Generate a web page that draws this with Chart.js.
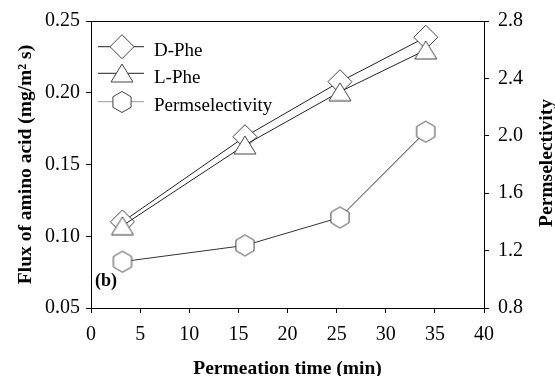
<!DOCTYPE html>
<html><head><meta charset="utf-8">
<script src="https://cdn.jsdelivr.net/npm/chart.js@4"></script>
<style>html,body{margin:0;padding:0;background:#fff}#wrap{width:555px;height:376px}</style>
</head><body><div id="wrap"><canvas id="c" width="555" height="376"></canvas></div>
<script>
// ---- data ----
const timeMin = [3.2, 15.67, 25.34, 34.07];
const dPhe = [0.110, 0.1694, 0.2077, 0.2387];
const lPhe = [0.1073, 0.1636, 0.2007, 0.2298];
const permselectivity = [1.123, 1.236, 1.431, 2.029];
const seriesNames = ['D-Phe', 'L-Phe', 'Permselectivity'];
const xTickValues = [0, 5, 10, 15, 20, 25, 30, 35, 40];
const leftTickValues = [0.05, 0.10, 0.15, 0.20, 0.25];
const rightTickValues = [0.8, 1.2, 1.6, 2.0, 2.4, 2.8];
const xTitle = 'Permeation time (min)';
const leftTitle = 'Flux of amino acid (mg/m\u00B2 s)';
const rightTitle = 'Permselectivity';
const panelLabel = '(b)';

// ---- marker images ----
const MK = '#444';
function makeTri() {
  const c = document.createElement('canvas'); c.width = 24; c.height = 20;
  const g = c.getContext('2d');
  g.beginPath(); g.moveTo(12, 1); g.lineTo(23, 19); g.lineTo(1, 19); g.closePath();
  g.fillStyle = '#fff'; g.fill(); g.strokeStyle = MK; g.lineWidth = 1; g.stroke();
  return c;
}
function makeHex() {
  const c = document.createElement('canvas'); c.width = 22; c.height = 24;
  const g = c.getContext('2d'); const R = 10.5;
  g.beginPath();
  for (let k = 0; k < 6; k++) {
    const a = (-90 + 60 * k) * Math.PI / 180;
    const px = 11 + R * Math.cos(a), py = 12 + R * Math.sin(a);
    k ? g.lineTo(px, py) : g.moveTo(px, py);
  }
  g.closePath(); g.fillStyle = '#fff'; g.fill(); g.strokeStyle = MK; g.lineWidth = 1; g.stroke();
  return c;
}
const triImg = makeTri(), hexImg = makeHex();

const pts = (ys) => timeMin.map((x, i) => ({ x, y: ys[i] }));
const FONT = "'Liberation Serif', 'Times New Roman', serif";

const extras = {
  id: 'extras',
  afterDraw(chart) {
    const ctx = chart.ctx, a = chart.chartArea;
    ctx.save();
    // top frame line
    ctx.strokeStyle = '#000'; ctx.lineWidth = 1;
    ctx.beginPath(); ctx.moveTo(a.left, a.top + 0.5); ctx.lineTo(a.right, a.top + 0.5); ctx.stroke();
    // legend
    const rows = [46.7, 73.3, 101.7];
    const lineCols = ['#222', '#222', '#999'];
    const x0 = a.left + 7, x1 = a.left + 53, mx = a.left + 31;
    rows.forEach((ry, i) => {
      ctx.strokeStyle = lineCols[i]; ctx.lineWidth = 1;
      ctx.beginPath(); ctx.moveTo(x0, ry); ctx.lineTo(x1, ry); ctx.stroke();
      if (i === 0) {
        ctx.beginPath(); ctx.moveTo(mx, ry - 12); ctx.lineTo(mx + 12, ry); ctx.lineTo(mx, ry + 12); ctx.lineTo(mx - 12, ry); ctx.closePath();
        ctx.fillStyle = '#fff'; ctx.fill(); ctx.strokeStyle = MK; ctx.stroke();
      } else {
        const img = i === 1 ? triImg : hexImg;
        ctx.drawImage(img, Math.round(mx - img.width / 2), Math.round(ry - img.height / 2));
      }
      ctx.fillStyle = '#000'; ctx.font = '19px ' + FONT; ctx.textAlign = 'left'; ctx.textBaseline = 'alphabetic';
      ctx.fillText(seriesNames[i], a.left + 63, ry + 9.5);
    });
    // panel label
    ctx.font = 'bold 18px ' + FONT; ctx.fillStyle = '#000'; ctx.textAlign = 'left'; ctx.textBaseline = 'alphabetic';
    ctx.fillText(panelLabel, a.left + 4, 286);
    // right axis title (reads bottom to top)
    ctx.translate(547, 163); ctx.rotate(-Math.PI / 2);
    ctx.font = 'bold 19.5px ' + FONT; ctx.textAlign = 'center'; ctx.textBaseline = 'middle';
    ctx.fillText(rightTitle, 0, 0);
    ctx.restore();
  }
};

new Chart(document.getElementById('c'), {
  type: 'line',
  data: {
    datasets: [
      { label: seriesNames[0], data: pts(dPhe), yAxisID: 'y', order: 1,
        borderColor: '#222', borderWidth: 1, pointStyle: 'rectRot', pointRadius: 12, pointHoverRadius: 12,
        pointBackgroundColor: '#fff', pointBorderColor: MK, pointBorderWidth: 1 },
      { label: seriesNames[1], data: pts(lPhe), yAxisID: 'y', order: 0,
        borderColor: '#222', borderWidth: 1, pointStyle: triImg, pointRadius: 12,
        pointBackgroundColor: '#fff', pointBorderColor: MK },
      { label: seriesNames[2], data: pts(permselectivity), yAxisID: 'y1', order: 2,
        borderColor: '#333', borderWidth: 1, pointStyle: hexImg, pointRadius: 11,
        pointBackgroundColor: '#fff', pointBorderColor: MK }
    ]
  },
  options: {
    responsive: false, animation: false, devicePixelRatio: 1,
    layout: { padding: { top: 21, left: 0, right: 0, bottom: 0 } },
    plugins: { legend: { display: false }, tooltip: { enabled: false } },
    scales: {
      x: {
        type: 'linear', min: 0, max: 40,
        afterBuildTicks: s => { s.ticks = xTickValues.map(v => ({ value: v })); },
        afterFit: s => { s.height = 68; },
        grid: { drawOnChartArea: false, drawTicks: true, tickLength: 5, color: '#000' },
        border: { display: true, color: '#000', width: 1 },
        ticks: { color: '#000', font: { family: FONT, size: 20 }, padding: 10, maxRotation: 0 },
        title: { display: true, text: xTitle, color: '#000', font: { family: FONT, size: 19.5, weight: 'bold' }, padding: { top: 0, bottom: -5 } }
      },
      y: {
        type: 'linear', position: 'left', min: 0.05, max: 0.25,
        afterBuildTicks: s => { s.ticks = leftTickValues.map(v => ({ value: v })); },
        afterFit: s => { s.width = 91; },
        grid: { drawOnChartArea: false, drawTicks: true, tickLength: 5, color: '#000' },
        border: { display: true, color: '#000', width: 1 },
        ticks: { color: '#000', font: { family: FONT, size: 20 }, padding: 6, callback: v => Number(v).toFixed(2) },
        title: { display: true, text: leftTitle, color: '#000', font: { family: FONT, size: 19.5, weight: 'bold' }, padding: { top: 14, bottom: 0 } }
      },
      y1: {
        type: 'linear', position: 'right', min: 0.8, max: 2.8,
        afterBuildTicks: s => { s.ticks = rightTickValues.map(v => ({ value: v })); },
        afterFit: s => { s.width = 71; },
        grid: { drawOnChartArea: false, drawTicks: true, tickLength: 5, color: '#000' },
        border: { display: true, color: '#000', width: 1 },
        ticks: { color: '#000', font: { family: FONT, size: 20 }, padding: 9, callback: v => Number(v).toFixed(1) }
      }
    }
  },
  plugins: [extras]
});
</script>
</body></html>
